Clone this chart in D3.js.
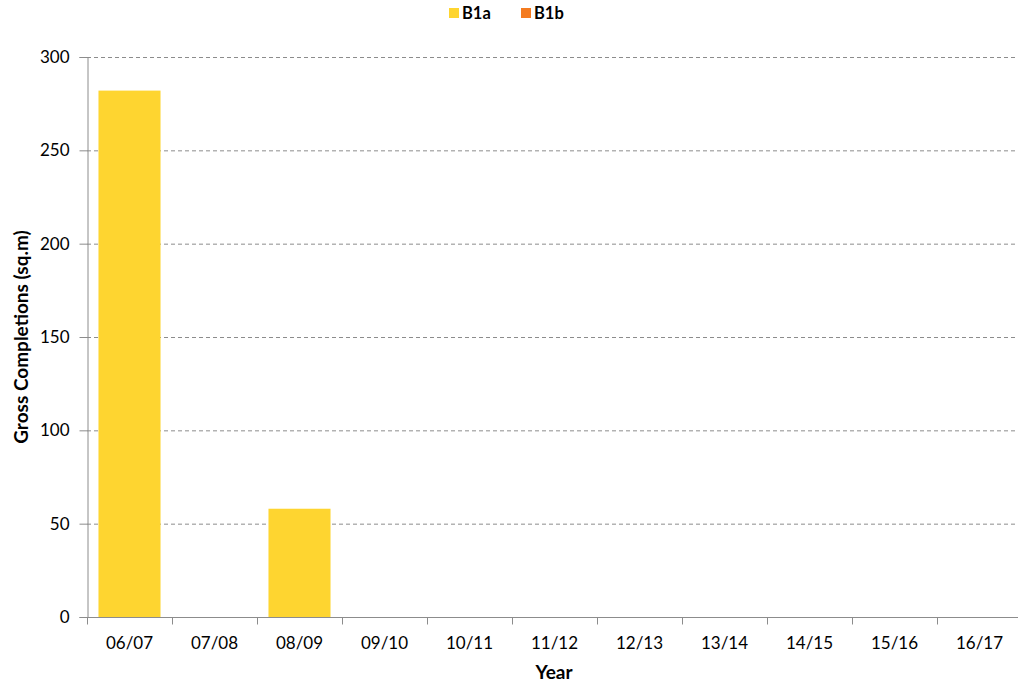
<!DOCTYPE html>
<html>
<head>
<meta charset="utf-8">
<script src="https://cdn.jsdelivr.net/npm/d3@7"></script>
<style>
  body { margin: 0; background: #fff; }
  text { font-family: Lato, "Open Sans", sans-serif; fill: #000; }
</style>
</head>
<body>
<div id="chart"></div>
<script>
var years = ["06/07", "07/08", "08/09", "09/10", "10/11", "11/12", "12/13", "13/14", "14/15", "15/16", "16/17"];
var b1a = [282, 0, 58, 0, 0, 0, 0, 0, 0, 0, 0];
var b1b = [0, 0, 0, 0, 0, 0, 0, 0, 0, 0, 0];
var seriesNames = ["B1a", "B1b"];
var seriesColors = ["#fed530", "#f47b20"];
var yTicks = [0, 50, 100, 150, 200, 250, 300];

var width = 1018, height = 684;
var plotLeft = 87, plotRight = 1022, plotTop = 57, plotBottom = 617;

var svg = d3.select("#chart").append("svg")
  .attr("width", width)
  .attr("height", height);

var x = d3.scaleBand().domain(years).range([plotLeft, plotRight]).paddingInner(0.27).paddingOuter(0.135);
var xEdges = d3.scaleBand().domain(years).range([plotLeft, plotRight]);
var y = d3.scaleLinear().domain([0, 300]).range([plotBottom, plotTop]);

// grid
svg.append("g").selectAll("line")
  .data(yTicks.filter(function(d){ return d > 0; }))
  .enter().append("line")
  .attr("x1", plotLeft).attr("x2", 1015)
  .attr("y1", function(d){ return y(d) + 0.5; })
  .attr("y2", function(d){ return y(d) + 0.5; })
  .attr("stroke", "#8c8c8c")
  .attr("stroke-dasharray", "4,3");

// stacked bars
var rows = years.map(function(yr, i){ return {year: yr, B1a: b1a[i], B1b: b1b[i]}; });
var stack = d3.stack().keys(seriesNames)(rows);

svg.append("g").selectAll("g")
  .data(stack)
  .enter().append("g")
  .attr("fill", function(d, i){ return seriesColors[i]; })
  .selectAll("rect")
  .data(function(d){ return d; })
  .enter().append("rect")
  .attr("x", function(d){ return x(d.data.year); })
  .attr("width", x.bandwidth())
  .attr("y", function(d){ return y(d[1]); })
  .attr("height", function(d){ return y(d[0]) - y(d[1]); });

// y axis
var yAxis = svg.append("g")
  .attr("transform", "translate(" + (plotLeft + 0.5) + ",0)")
  .call(d3.axisLeft(y).tickValues(yTicks).tickSize(8).tickPadding(10));
yAxis.select(".domain").attr("stroke", "#8c8c8c");
yAxis.selectAll(".tick line").attr("stroke", "#8c8c8c");
yAxis.selectAll("text").style("font-size", "17px");

// x axis
var xAxisG = svg.append("g").attr("transform", "translate(0," + (plotBottom + 0.5) + ")");
xAxisG.append("line").attr("x1", plotLeft).attr("x2", width).attr("stroke", "#8c8c8c");
xAxisG.selectAll(".xt")
  .data(years)
  .enter().append("line")
  .attr("class", "xt")
  .attr("x1", function(d){ return Math.round(xEdges(d)) + 0.5; })
  .attr("x2", function(d){ return Math.round(xEdges(d)) + 0.5; })
  .attr("y1", 0).attr("y2", 7)
  .attr("stroke", "#8c8c8c");
xAxisG.selectAll(".xl")
  .data(years)
  .enter().append("text")
  .attr("class", "xl")
  .attr("x", function(d){ return xEdges(d) + xEdges.bandwidth() / 2; })
  .attr("y", 31)
  .attr("text-anchor", "middle")
  .style("font-size", "17px")
  .text(function(d){ return d; });

// axis titles
svg.append("text")
  .attr("x", 554)
  .attr("y", 679)
  .attr("text-anchor", "middle")
  .style("font-size", "19px")
  .style("font-weight", "bold")
  .text("Year");

svg.append("text")
  .attr("transform", "translate(28," + ((plotTop + plotBottom) / 2) + ") rotate(-90)")
  .attr("text-anchor", "middle")
  .style("font-size", "19px")
  .style("font-weight", "bold")
  .text("Gross Completions (sq.m)");

// legend
var legend = svg.append("g").selectAll("g")
  .data(seriesNames)
  .enter().append("g")
  .attr("transform", function(d, i){ return "translate(" + (449 + i * 72) + ",8)"; });
legend.append("rect")
  .attr("width", 10).attr("height", 10)
  .attr("fill", function(d, i){ return seriesColors[i]; });
legend.append("text")
  .attr("x", 13).attr("y", 11)
  .style("font-size", "16.5px")
  .style("font-weight", "bold")
  .text(function(d){ return d; });
</script>
</body>
</html>
